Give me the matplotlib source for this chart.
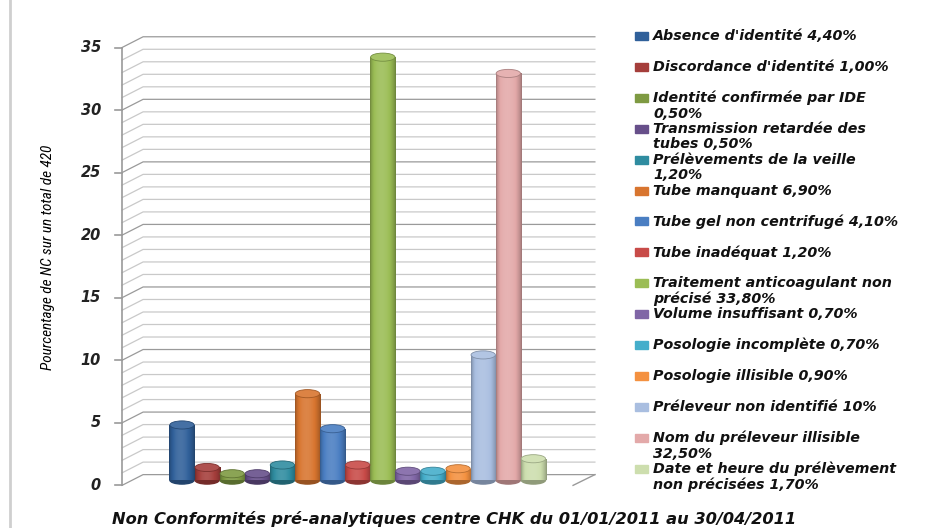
import numpy as np
import matplotlib.pyplot as plt
from matplotlib.patches import Ellipse, Rectangle
from matplotlib.colors import to_rgb

# data
labels = ["Absence d'identité 4,40%",
          "Discordance d'identité 1,00%",
          "Identité confirmée par IDE\n0,50%",
          "Transmission retardée des\ntubes 0,50%",
          "Prélèvements de la veille\n1,20%",
          "Tube manquant 6,90%",
          "Tube gel non centrifugé 4,10%",
          "Tube inadéquat 1,20%",
          "Traitement anticoagulant non\nprécisé 33,80%",
          "Volume insuffisant 0,70%",
          "Posologie incomplète 0,70%",
          "Posologie illisible 0,90%",
          "Préleveur non identifié 10%",
          "Nom du préleveur illisible\n32,50%",
          "Date et heure du prélèvement\nnon précisées 1,70%"]
values = [4.4, 1.0, 0.5, 0.5, 1.2, 6.9, 4.1, 1.2, 33.8, 0.7, 0.7, 0.9, 10, 32.5, 1.7]
colors = ['#30609A', '#A53E3B', '#7E9A42', '#674F8A', '#2F8CA0', '#D8752F',
          '#4A7EC2', '#C84B48', '#9BBD55', '#8066A6', '#45AECB', '#F49140',
          '#A9BEE0', '#E3A9A9', '#CDDEAE']
yticks = [0, 5, 10, 15, 20, 25, 30, 35]
ymax = 35
title = "Non Conformités pré-analytiques centre CHK du 01/01/2011 au 30/04/2011"
ylabel = "Pourcentage de NC sur un total de 420"

W, H = 927, 528
fig = plt.figure(figsize=(W / 100, H / 100), dpi=100)
ax = fig.add_axes([0, 0, 1, 1])

# map data units to pixels
x0, xs = 182, 25.1
y0, ys = 480, 12.51
ax.set_xlim(-x0 / xs, (W - x0) / xs)
ax.set_ylim(-(H - y0) / ys, y0 / ys)
ax.axis('off')

# fake 3d walls
dx, dy = 0.42, 0.43
x_front = -2.39
x_back = x_front + 2 * dx
x_end = 16.45
for k in range(ymax + 1):
    c = '#9a9a9a' if k % 5 == 0 else '#c9c9c9'
    ax.plot([x_front, x_back, x_end], [k - dy, k + dy, k + dy], color=c, lw=0.9, zorder=1)
ax.plot([x_front, x_front], [-dy, ymax - dy], color='#9a9a9a', lw=1.2, zorder=1)
ax.plot([15.58, x_end], [-dy, dy], color='#9a9a9a', lw=1.0, zorder=1)

for v in yticks:
    ax.plot([x_front - 0.28, x_front], [v - dy, v - dy], color='#9a9a9a', lw=1.2)
    ax.text(x_front - 0.84, v - dy, str(v), ha='right', va='center', fontsize=10.5,
            fontweight='bold', style='italic', color='#222222')

# cylinders
bw = 1.0
eh = 0.65
xpos = np.arange(len(values))
bars = ax.bar(xpos, values, width=bw, color=colors, zorder=3)
t = np.linspace(0, 1, 80)
prof = 0.68 + 0.45 * np.sin(np.pi * (t ** 0.85)) ** 0.7
for b, c, xc, v in zip(bars, colors, xpos, values):
    rgb = np.array(to_rgb(c))
    grad = np.empty((1, len(t), 3))
    for j, f in enumerate(prof):
        if f <= 1:
            grad[0, j] = rgb * f
        else:
            grad[0, j] = rgb + (1 - rgb) * (f - 1) * 0.9
    bottom = Ellipse((xc, 0), bw * 0.97, eh, color=rgb * 0.7, zorder=2.9)
    ax.add_patch(bottom)
    im = ax.imshow(grad, extent=[xc - bw / 2, xc + bw / 2, 0, v], aspect='auto',
                   interpolation='bilinear', zorder=3.1)
    im.set_clip_path(b)
    top = Ellipse((xc, v), bw * 0.97, eh, facecolor=rgb * 0.9 + 0.1 * np.ones(3),
                  edgecolor=rgb * 0.75, lw=0.6, zorder=3.2)
    ax.add_patch(top)
ax.set_xlim(-x0 / xs, (W - x0) / xs)
ax.set_ylim(-(H - y0) / ys, y0 / ys)

# legend
for i, (txt, c) in enumerate(zip(labels, colors)):
    yp = 36 + 30.9 * i
    fig.patches.append(Rectangle((635 / W, 1 - (yp + 4) / H), 13 / W, 8 / H,
                                 transform=fig.transFigure, color=c))
    fig.text(653 / W, 1 - (yp - 7) / H, txt, ha='left', va='top', fontsize=10.3,
             fontweight='bold', style='italic', linespacing=1.12, color='#111111')

fig.text(48 / W, 1 - 257 / H, ylabel, rotation=90, ha='center', va='center',
         fontsize=11, style='italic',
         family=['Roboto Condensed', 'Liberation Sans Narrow', 'DejaVu Sans Condensed', 'Liberation Sans'])
fig.text(454 / W, 1 - 519 / H, title, ha='center', va='center', fontsize=11.7,
         fontweight='bold', style='italic', color='#111111')

# frame line on the left
fig.lines.append(plt.Line2D([10 / W, 10 / W], [0, 1], transform=fig.transFigure,
                            color='#cfcfcf', lw=2))

fig.savefig('out.png', dpi=100)
